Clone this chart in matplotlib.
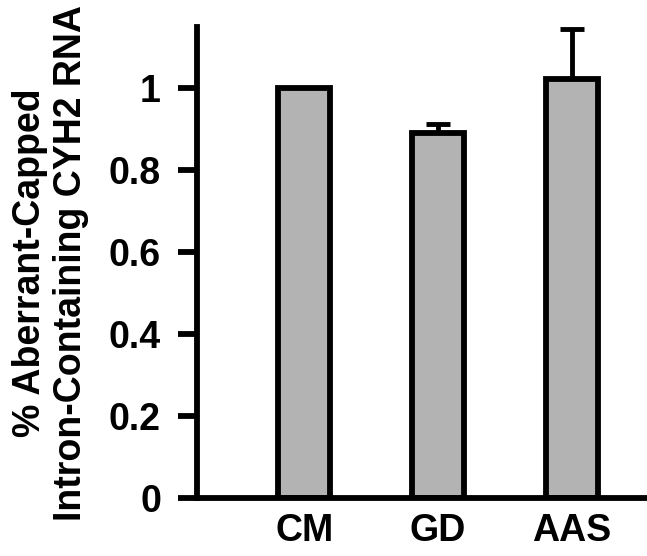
import matplotlib
matplotlib.use('Agg')
import matplotlib.pyplot as plt
import numpy as np

categories = ['CM', 'GD', 'AAS']
values = [1.0, 0.89, 1.022]
errors = [0.0, 0.022, 0.122]
yticks = [0, 0.2, 0.4, 0.6, 0.8, 1]
ytick_labels = ['0', '0.2', '0.4', '0.6', '0.8', '1']

plt.rcParams['font.family'] = ['Liberation Sans', 'DejaVu Sans']
plt.rcParams['font.weight'] = 'bold'

fig = plt.figure(figsize=(6.47, 5.56), dpi=100)
ax = fig.add_axes([0.3045, 0.104, 0.6955, 0.847])

x = np.arange(len(categories))
ax.bar(x, values, width=0.39, color='#b3b3b3', edgecolor='black', linewidth=4.2, zorder=2)
ax.errorbar(x, values, yerr=[np.zeros(len(errors)), errors], fmt='none',
            ecolor='black', elinewidth=3.5, capsize=8.5, capthick=3.5, zorder=1)

ax.set_xlim(-0.80, 2.56)
ax.set_ylim(0, 1.149)
ax.set_xticks(x)
ax.set_xticklabels(categories, fontsize=27, fontweight='bold')
ax.set_yticks(yticks)
ax.set_yticklabels(ytick_labels, fontsize=27, fontweight='bold')

for s in ['top', 'right']:
    ax.spines[s].set_visible(False)
for s in ['left', 'bottom']:
    ax.spines[s].set_linewidth(4.2)

ax.tick_params(axis='y', direction='out', length=14, width=4.2, pad=12)
ax.tick_params(axis='x', length=0, pad=11)

ax.set_ylabel('% Aberrant-Capped\nIntron-Containing CYH2 RNA', fontsize=27,
              fontweight='bold', labelpad=14, linespacing=1.2)

fig.savefig('out.png', dpi=100)
